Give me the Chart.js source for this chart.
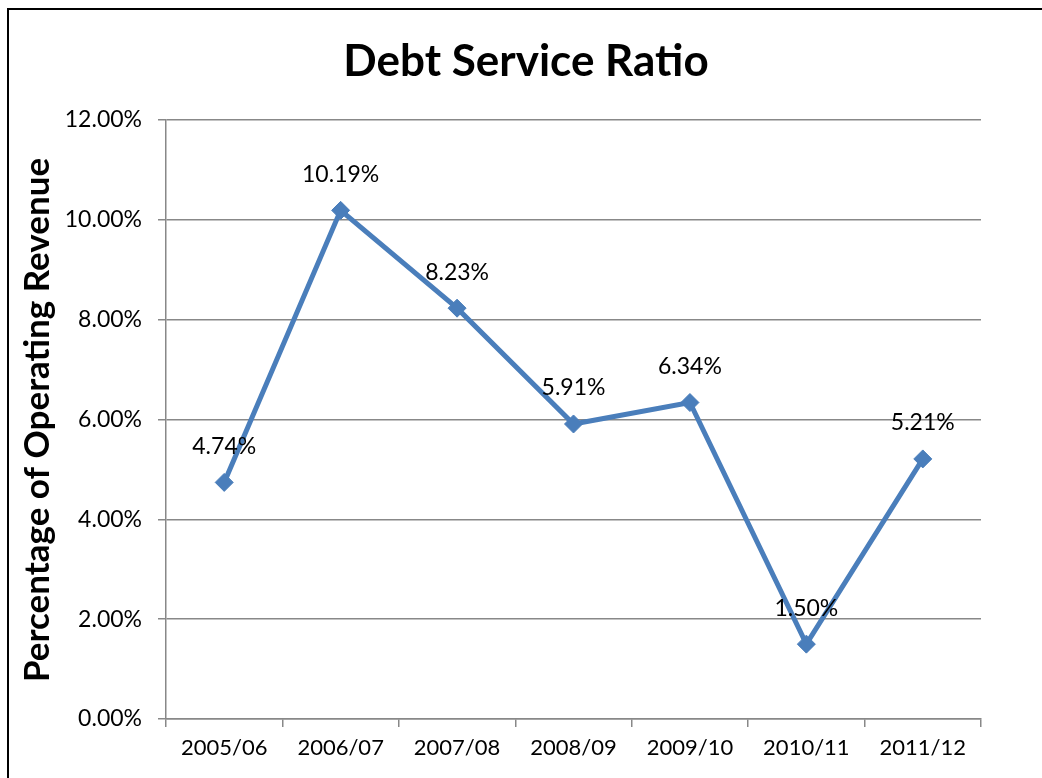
<!DOCTYPE html>
<html>
<head>
<meta charset="utf-8">
<script src="https://cdn.jsdelivr.net/npm/chart.js@4"></script>
<style>
  html, body { margin: 0; padding: 0; background: #fff; }
  #wrap { width: 1042px; height: 778px; }
</style>
</head>
<body>
<div id="wrap"><canvas id="ratioChart" width="1042" height="778"></canvas></div>
<script>
const years = ["2005/06", "2006/07", "2007/08", "2008/09", "2009/10", "2010/11", "2011/12"];
const ratios = [4.74, 10.19, 8.23, 5.91, 6.34, 1.50, 5.21];
const chartTitle = "Debt Service Ratio";
const yTitle = "Percentage of Operating Revenue";

const FONT = "Lato, 'Open Sans', sans-serif";
const GRID = "#888888";

// frame, title, y title and the value labels
const decor = {
  id: "decor",
  beforeDraw(chart) {
    const ctx = chart.ctx;
    ctx.save();
    ctx.fillStyle = "#ffffff";
    ctx.fillRect(0, 0, chart.width, chart.height);
    ctx.restore();
  },
  afterDraw(chart) {
    const ctx = chart.ctx;
    ctx.save();
    ctx.strokeStyle = "#000";
    ctx.lineWidth = 2;
    ctx.strokeRect(8, 9, 1200, 1000);

    ctx.fillStyle = "#000";
    ctx.textAlign = "center";
    ctx.textBaseline = "middle";
    ctx.font = "bold 44px " + FONT;
    ctx.fillText(chartTitle, 526, 62);

    ctx.save();
    ctx.translate(38, 420);
    ctx.rotate(-Math.PI / 2);
    ctx.font = "bold 35px " + FONT;
    ctx.fillText(yTitle, 0, 0);
    ctx.restore();

    ctx.font = "23px " + FONT;
    const meta = chart.getDatasetMeta(0);
    meta.data.forEach(function (pt, i) {
      ctx.fillText(ratios[i].toFixed(2) + "%", pt.x, pt.y - 36);
    });
    ctx.restore();
  }
};

new Chart(document.getElementById("ratioChart"), {
  type: "line",
  data: {
    labels: years,
    datasets: [
      {
        label: "Debt Service Ratio",
        data: ratios,
        borderColor: "#4a7ebb",
        backgroundColor: "#4a7ebb",
        borderWidth: 5,
        pointStyle: "rectRot",
        pointRadius: 9,
        pointBorderWidth: 1,
        pointHoverRadius: 9,
        tension: 0,
      },
    ],
  },
  options: {
    responsive: false,
    animation: false,
    devicePixelRatio: 1,
    layout: { padding: { left: 0, right: 61, top: 120, bottom: 0 } },
    plugins: {
      legend: { display: false },
      title: { display: false },
      tooltip: { enabled: false },
    },
    scales: {
      x: {
        offset: true,
        afterFit(scale) { scale.height = 59; },
        grid: {
          offset: true,
          drawOnChartArea: false,
          drawTicks: true,
          tickLength: 8,
          color: GRID,
          lineWidth: 1.5,
        },
        border: { color: GRID, width: 1.5 },
        ticks: { color: "#000", font: { family: FONT, size: 22 }, padding: 8, maxRotation: 0 },
      },
      y: {
        min: 0,
        max: 12,
        afterFit(scale) { scale.width = 166; },
        grid: { color: GRID, lineWidth: 1.5, tickLength: 8 },
        border: { color: GRID, width: 1.5 },
        ticks: {
          stepSize: 2,
          color: "#000",
          padding: 16,
          font: { family: FONT, size: 23 },
          callback: function (v) { return v.toFixed(2) + "%"; },
        },
      },
    },
  },
  plugins: [decor],
});
</script>
</body>
</html>
